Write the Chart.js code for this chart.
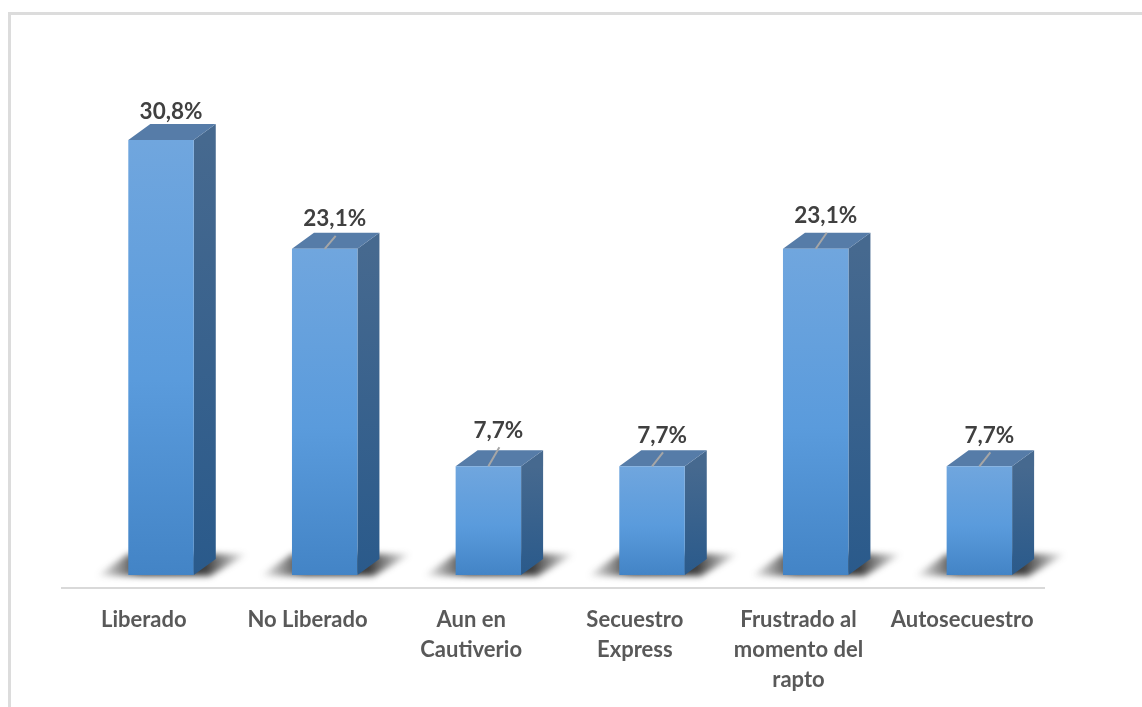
<!DOCTYPE html>
<html>
<head>
<meta charset="utf-8">
<script src="https://cdn.jsdelivr.net/npm/chart.js@4"></script>
<style>
    html, body { margin: 0; padding: 0; background: #fff; }
    #wrap { position: relative; width: 1142px; height: 707px; overflow: hidden; }
    #frame { position: absolute; left: 8px; top: 12px; right: 0; bottom: 0; border-top: 3px solid #dcdcdc; border-left: 3px solid #dcdcdc; }
    canvas { position: absolute; left: 0; top: 0; }
</style>
</head>
<body>
<div id="wrap">
    <div id="frame"></div>
    <canvas id="chart" width="1142" height="707"></canvas>
</div>
<script>
const categories = [
    'Liberado',
    'No Liberado',
    ['Aun en', 'Cautiverio'],
    ['Secuestro', 'Express'],
    ['Frustrado al', 'momento del', 'rapto'],
    'Autosecuestro'
];
const shares = [30.8, 23.1, 7.7, 7.7, 23.1, 7.7];
const shareLabels = ['30,8%', '23,1%', '7,7%', '7,7%', '23,1%', '7,7%'];

// how far each label sits above its bar, moved by hand in the original
const labelLift = [28, 30, 36, 31, 33, 31];
const labelShift = 10;
// the 3d view pushes the bars right of their axis labels
const viewShift = 17.2;
const depthX = 22;
const depthY = 16;

const fontFamily = 'Lato, "Open Sans", sans-serif';

function frontGradient(context) {
    const { chart, dataIndex } = context;
    if (!chart.chartArea) return '#5b9bd5';
    const yScale = chart.scales.y;
    const g = chart.ctx.createLinearGradient(0, yScale.getPixelForValue(shares[dataIndex]), 0, yScale.getPixelForValue(0));
    g.addColorStop(0, '#70a6de');
    g.addColorStop(0.55, '#5a9bdc');
    g.addColorStop(1, '#4384c6');
    return g;
}

const bar3dPlugin = {
    id: 'bar3d',
    beforeDatasetsDraw(chart) {
        const ctx = chart.ctx;
        ctx.save();
        ctx.translate(viewShift, 0);
        chart.getDatasetMeta(0).data.forEach(bar => {
            const left = bar.x - bar.width / 2;
            const right = bar.x + bar.width / 2;
            const top = bar.y;
            const base = bar.base;

            // floor shadow, fades out at both ends
            ctx.save();
            ctx.filter = 'blur(3px)';
            const sh = ctx.createLinearGradient(left - 32, 0, right + 54, 0);
            sh.addColorStop(0, 'rgba(40,40,40,0)');
            sh.addColorStop(0.3, 'rgba(40,40,40,0.95)');
            sh.addColorStop(0.72, 'rgba(40,40,40,0.9)');
            sh.addColorStop(1, 'rgba(40,40,40,0)');
            ctx.fillStyle = sh;
            ctx.beginPath();
            ctx.moveTo(left - 32, base + 1);
            ctx.lineTo(left, base - depthY - 5);
            ctx.lineTo(right + 54, base - depthY - 5);
            ctx.lineTo(right + 16, base + 1);
            ctx.closePath();
            ctx.fill();
            ctx.restore();

            // side face
            const side = ctx.createLinearGradient(0, top, 0, base);
            side.addColorStop(0, '#46698f');
            side.addColorStop(1, '#2a5a8b');
            ctx.fillStyle = side;
            ctx.beginPath();
            ctx.moveTo(right, top);
            ctx.lineTo(right + depthX, top - depthY);
            ctx.lineTo(right + depthX, base - depthY);
            ctx.lineTo(right, base);
            ctx.closePath();
            ctx.fill();

            // top face
            ctx.fillStyle = '#567ca8';
            ctx.beginPath();
            ctx.moveTo(left, top);
            ctx.lineTo(left + depthX, top - depthY);
            ctx.lineTo(right + depthX, top - depthY);
            ctx.lineTo(right, top);
            ctx.closePath();
            ctx.fill();
        });
    },
    afterDatasetsDraw(chart) {
        const ctx = chart.ctx;
        chart.getDatasetMeta(0).data.forEach((bar, i) => {
            const labelY = bar.y - labelLift[i];
            const labelX = bar.x + labelShift;

            // leader line, the first label is close enough not to have one
            if (i > 0) {
                ctx.strokeStyle = '#a6a6a6';
                ctx.lineWidth = 2;
                ctx.beginPath();
                ctx.moveTo(bar.x, bar.y);
                ctx.lineTo(labelX + 1, labelY + 17);
                ctx.stroke();
            }

            ctx.fillStyle = '#404040';
            ctx.font = `bold 22.5px ${fontFamily}`;
            ctx.textAlign = 'center';
            ctx.textBaseline = 'middle';
            ctx.fillText(shareLabels[i], labelX, labelY);
        });
        ctx.restore();
    }
};

new Chart(document.getElementById('chart').getContext('2d'), {
    type: 'bar',
    data: {
        labels: categories,
        datasets: [{
            data: shares,
            backgroundColor: frontGradient,
            borderWidth: 0,
            categoryPercentage: 1,
            barPercentage: 0.4
        }]
    },
    options: {
        responsive: false,
        animation: false,
        layout: { padding: { left: 62, right: 98, top: 60, bottom: 0 } },
        plugins: { legend: { display: false }, tooltip: { enabled: false } },
        scales: {
            x: {
                grid: { display: false, drawTicks: false },
                border: { color: '#d9d9d9', width: 2 },
                afterFit(scale) { scale.height = 119; },
                ticks: {
                    color: '#595959',
                    font: { family: fontFamily, size: 22, weight: 'bold', lineHeight: 1.36 },
                    padding: 17,
                    maxRotation: 0,
                    autoSkip: false
                }
            },
            y: {
                display: false,
                min: -0.92,
                max: 36.47
            }
        }
    },
    plugins: [bar3dPlugin]
});
</script>
</body>
</html>
